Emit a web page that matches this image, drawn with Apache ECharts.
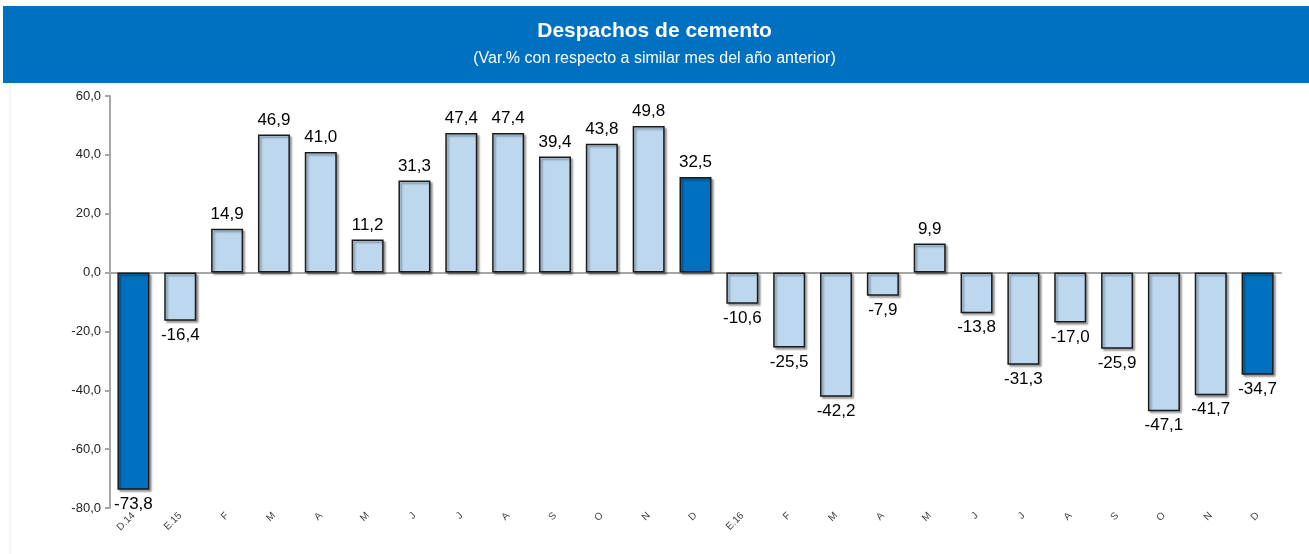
<!DOCTYPE html>
<html>
<head>
<meta charset="utf-8">
<script src="https://cdn.jsdelivr.net/npm/echarts@6/dist/echarts.min.js"></script>
<style>
html,body{margin:0;padding:0;background:#fff;}
#chart{width:1309px;height:554px;}
</style>
</head>
<body>
<div id="chart"></div>
<script>
const categories = ['D.14','E.15','F','M','A','M','J','J','A','S','O','N','D','E.16','F','M','A','M','J','J','A','S','O','N','D'];
const values = [-73.8,-16.4,14.9,46.9,41.0,11.2,31.3,47.4,47.4,39.4,43.8,49.8,32.5,-10.6,-25.5,-42.2,-7.9,9.9,-13.8,-31.3,-17.0,-25.9,-47.1,-41.7,-34.7];
const highlightedIdx = [0, 12, 24];
const yTicks = [-80,-60,-40,-20,0,20,40,60];
const titleText = 'Despachos de cemento';
const subtitleText = '(Var.% con respecto a similar mes del año anterior)';

const LIGHT = '#BDD7EE';
const DARK = '#0070C0';
const fmt = v => v.toFixed(1).replace('.', ',');

const data = values.map((v, i) => ({
  value: v,
  itemStyle: { color: highlightedIdx.includes(i) ? DARK : LIGHT },
  label: { position: v >= 0 ? 'top' : 'bottom' }
}));

const chart = echarts.init(document.getElementById('chart'), null, {renderer:'canvas'});
chart.setOption({
  backgroundColor: '#fff',
  animation: false,
  graphic: [
    { type: 'rect', left: 3, top: 6, shape: { width: 1306, height: 77 }, style: { fill: DARK }, z: 0 },
    { type: 'line', shape: { x1: 10, y1: 83, x2: 10, y2: 554 }, style: { stroke: '#ededed', lineWidth: 1 } },
    { type: 'text', left: 'center', top: 21, style: { text: titleText, fill: '#fff', font: 'bold 21px "Liberation Sans", Arial, sans-serif' }, z: 10 },
    { type: 'text', left: 'center', top: 51, style: { text: subtitleText, fill: '#fff', font: '16px "Liberation Sans", Arial, sans-serif' }, z: 10 }
  ],
  grid: { left: 110, right: 28, top: 96, bottom: 46, containLabel: false },
  xAxis: [
    {
      type: 'category', data: categories, position: 'bottom',
      axisLine: { show: false, onZero: false }, axisTick: { show: false },
      axisLabel: { rotate: 45, fontSize: 10, color: '#444', margin: 6, interval: 0, fontFamily: 'Liberation Sans' }
    },
    {
      type: 'category', data: categories, position: 'bottom',
      axisLine: { show: true, onZero: true, lineStyle: { color: '#A6A6A6', width: 2 } },
      axisTick: { show: false }, axisLabel: { show: false }
    }
  ],
  yAxis: {
    type: 'value', min: yTicks[0], max: yTicks[yTicks.length - 1], interval: 20,
    axisLine: { show: true, lineStyle: { color: '#A6A6A6', width: 2 } },
    axisTick: { show: true, inside: false, length: 5, lineStyle: { color: '#A6A6A6', width: 2 } },
    splitLine: { show: false },
    axisLabel: { formatter: v => fmt(v), fontSize: 13, color: '#222', margin: 9, fontFamily: 'Liberation Sans' }
  },
  series: [{
    type: 'bar', data: data, barWidth: 32,
    itemStyle: { borderColor: '#1a1a1a', borderWidth: 1.5, shadowColor: 'rgba(0,0,0,0.35)', shadowOffsetX: 2, shadowOffsetY: 2, shadowBlur: 2 },
    label: { show: true, formatter: p => fmt(p.value), fontSize: 17, color: '#000', distance: 6, fontFamily: 'Liberation Sans' }
  }]
});
</script>
</body>
</html>
